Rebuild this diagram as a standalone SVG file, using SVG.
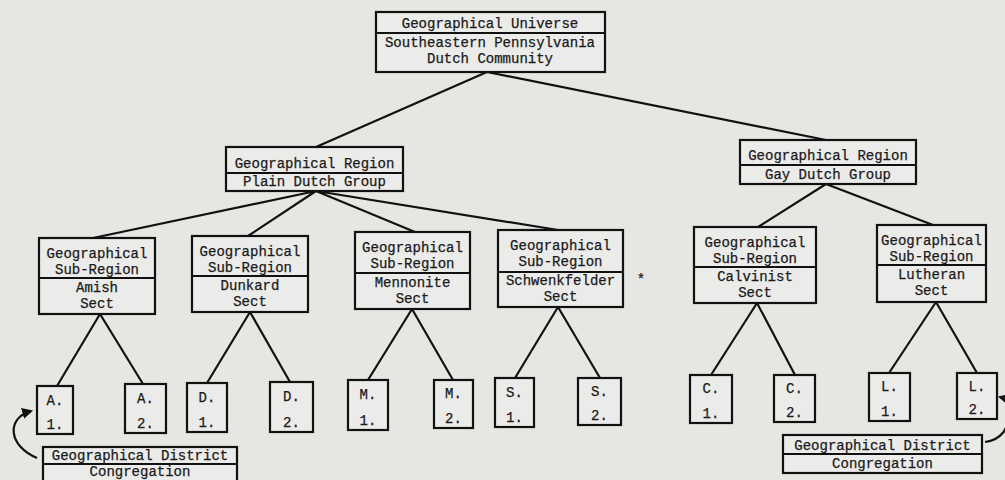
<svg xmlns="http://www.w3.org/2000/svg" width="1005" height="480" viewBox="0 0 1005 480">
<defs>
<style>
.b{fill:#ebebe9;stroke:#111;stroke-width:2.2}
.d{stroke:#111;stroke-width:2;fill:none}
.t{font-family:"Liberation Mono","DejaVu Sans Mono",monospace;font-size:14px;fill:#1a1a1a;text-anchor:middle;stroke:#1a1a1a;stroke-width:0.25}
.c{stroke:#111;stroke-width:2.2;fill:none}
</style>
<marker id="ah" viewBox="0 0 10 10" refX="8" refY="5" markerWidth="5" markerHeight="5" orient="auto">
<path d="M0,0 L10,5 L0,10 z" fill="#111"/>
</marker>
</defs>
<rect width="1005" height="480" fill="#e6e6e3"/>
<g id="connectors">
<path class="c" d="M487,72 L316,147 M487,72 L826,140"/>
<path class="c" d="M316,191 L93,238 M316,191 L248,236 M316,191 L415,232 M316,191 L558,230"/>
<path class="c" d="M826,184 L758,227 M826,184 L933,225"/>
<path class="c" d="M100,314 L57,386 M100,314 L143,384"/>
<path class="c" d="M250,312 L207,383 M250,312 L290,382"/>
<path class="c" d="M412,309 L368,380 M412,309 L453,380"/>
<path class="c" d="M558,307 L515,378 M558,307 L600,378"/>
<path class="c" d="M757,303 L711,375 M757,303 L795,375"/>
<path class="c" d="M936,302 L889,373 M936,302 L977,373"/>
<path class="c" d="M37,458 C8,446 6,418 31,411" marker-end="url(#ah)"/>
<path class="c" d="M985,442 C1000,440 1010,430 1008,410 C1007,402 1004,398 1000,397" marker-end="url(#ah)"/>
</g>
<g id="universe">
<rect class="b" x="376" y="12" width="229" height="60"/>
<line class="d" x1="376" y1="33" x2="605" y2="33"/>
<text class="t" x="490" y="28">Geographical Universe</text>
<text class="t" x="490" y="47">Southeastern Pennsylvania</text>
<text class="t" x="490" y="63">Dutch Community</text>
</g>
<g id="region-plain">
<rect class="b" x="226" y="147" width="177" height="44"/>
<line class="d" x1="226" y1="173" x2="403" y2="173"/>
<text class="t" x="314.5" y="168">Geographical Region</text>
<text class="t" x="314.5" y="186">Plain Dutch Group</text>
</g>
<g id="region-gay">
<rect class="b" x="740" y="140" width="176" height="44"/>
<line class="d" x1="740" y1="165" x2="916" y2="165"/>
<text class="t" x="828" y="160">Geographical Region</text>
<text class="t" x="828" y="179">Gay Dutch Group</text>
</g>
<g id="sub-amish">
<rect class="b" x="39" y="238" width="116" height="76"/>
<line class="d" x1="39" y1="278" x2="155" y2="278"/>
<text class="t" x="97" y="258">Geographical</text>
<text class="t" x="97" y="274">Sub-Region</text>
<text class="t" x="97" y="292">Amish</text>
<text class="t" x="97" y="308">Sect</text>
</g>
<g id="sub-dunkard">
<rect class="b" x="192" y="236" width="116" height="76"/>
<line class="d" x1="192" y1="276" x2="308" y2="276"/>
<text class="t" x="250" y="256">Geographical</text>
<text class="t" x="250" y="272">Sub-Region</text>
<text class="t" x="250" y="290">Dunkard</text>
<text class="t" x="250" y="306">Sect</text>
</g>
<g id="sub-mennonite">
<rect class="b" x="355" y="232" width="115" height="77"/>
<line class="d" x1="355" y1="273" x2="470" y2="273"/>
<text class="t" x="412.5" y="252">Geographical</text>
<text class="t" x="412.5" y="268">Sub-Region</text>
<text class="t" x="412.5" y="287">Mennonite</text>
<text class="t" x="412.5" y="303">Sect</text>
</g>
<g id="sub-schwenkfelder">
<rect class="b" x="498" y="230" width="125" height="77"/>
<line class="d" x1="498" y1="272" x2="623" y2="272"/>
<text class="t" x="560.5" y="250">Geographical</text>
<text class="t" x="560.5" y="266">Sub-Region</text>
<text class="t" x="560.5" y="285">Schwenkfelder</text>
<text class="t" x="560.5" y="301">Sect</text>
<text class="t" x="641" y="284">*</text>
</g>
<g id="sub-calvinist">
<rect class="b" x="694" y="227" width="122" height="76"/>
<line class="d" x1="694" y1="267" x2="816" y2="267"/>
<text class="t" x="755" y="247">Geographical</text>
<text class="t" x="755" y="263">Sub-Region</text>
<text class="t" x="755" y="281">Calvinist</text>
<text class="t" x="755" y="297">Sect</text>
</g>
<g id="sub-lutheran">
<rect class="b" x="877" y="225" width="109" height="77"/>
<line class="d" x1="877" y1="265" x2="986" y2="265"/>
<text class="t" x="931.5" y="245">Geographical</text>
<text class="t" x="931.5" y="261">Sub-Region</text>
<text class="t" x="931.5" y="279">Lutheran</text>
<text class="t" x="931.5" y="295">Sect</text>
</g>
<g id="leaf-a1"><rect class="b" x="37" y="386" width="36" height="48"/><text class="t" x="55" y="405">A.</text><text class="t" x="55" y="429">1.</text></g>
<g id="leaf-a2"><rect class="b" x="125" y="384" width="41" height="49"/><text class="t" x="145.5" y="403">A.</text><text class="t" x="145.5" y="428">2.</text></g>
<g id="leaf-d1"><rect class="b" x="187" y="383" width="40" height="49"/><text class="t" x="207" y="402">D.</text><text class="t" x="207" y="427">1.</text></g>
<g id="leaf-d2"><rect class="b" x="270" y="382" width="43" height="50"/><text class="t" x="291.5" y="401">D.</text><text class="t" x="291.5" y="427">2.</text></g>
<g id="leaf-m1"><rect class="b" x="348" y="380" width="40" height="50"/><text class="t" x="368" y="399">M.</text><text class="t" x="368" y="425">1.</text></g>
<g id="leaf-m2"><rect class="b" x="434" y="380" width="39" height="48"/><text class="t" x="453.5" y="398">M.</text><text class="t" x="453.5" y="423">2.</text></g>
<g id="leaf-s1"><rect class="b" x="495" y="378" width="39" height="49"/><text class="t" x="514.5" y="397">S.</text><text class="t" x="514.5" y="422">1.</text></g>
<g id="leaf-s2"><rect class="b" x="578" y="378" width="43" height="47"/><text class="t" x="599.5" y="396">S.</text><text class="t" x="599.5" y="420">2.</text></g>
<g id="leaf-c1"><rect class="b" x="690" y="375" width="42" height="48"/><text class="t" x="711" y="393">C.</text><text class="t" x="711" y="418">1.</text></g>
<g id="leaf-c2"><rect class="b" x="774" y="375" width="41" height="47"/><text class="t" x="794.5" y="393">C.</text><text class="t" x="794.5" y="417">2.</text></g>
<g id="leaf-l1"><rect class="b" x="869" y="373" width="41" height="48"/><text class="t" x="889.5" y="391">L.</text><text class="t" x="889.5" y="416">1.</text></g>
<g id="leaf-l2"><rect class="b" x="957" y="373" width="40" height="46"/><text class="t" x="977" y="391">L.</text><text class="t" x="977" y="414">2.</text></g>
<g id="district-left">
<rect class="b" x="43" y="447" width="194" height="45"/>
<line class="d" x1="43" y1="464" x2="237" y2="464"/>
<text class="t" x="140" y="460">Geographical District</text>
<text class="t" x="140" y="476">Congregation</text>
</g>
<g id="district-right">
<rect class="b" x="783" y="435" width="199" height="38"/>
<line class="d" x1="783" y1="454" x2="982" y2="454"/>
<text class="t" x="882.5" y="450">Geographical District</text>
<text class="t" x="882.5" y="468">Congregation</text>
</g>
</svg>
